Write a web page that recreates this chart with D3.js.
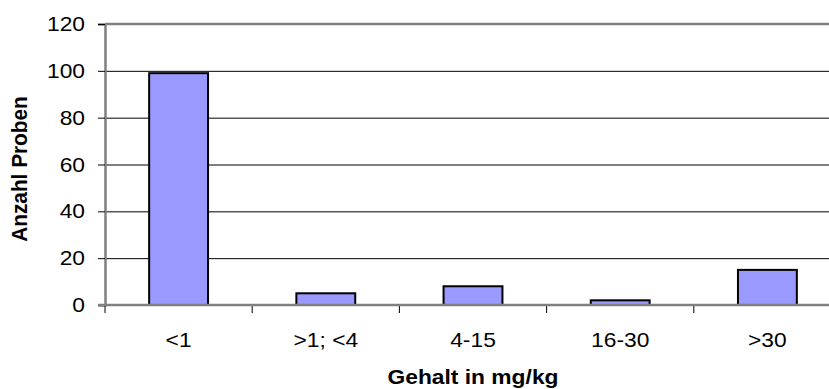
<!DOCTYPE html>
<html>
<head>
<meta charset="utf-8">
<script src="https://cdn.jsdelivr.net/npm/d3@7"></script>
<style>
  html, body { margin: 0; padding: 0; background: #fff; }
  svg { display: block; font-family: "Liberation Sans", Arial, sans-serif; }
</style>
</head>
<body>
<svg id="chart" width="829" height="389"></svg>
<script>
// Anzahl Proben je Gehaltsklasse
const categories = ["<1", ">1; <4", "4-15", "16-30", ">30"];
const counts = [99, 5, 8, 2, 15];
const yTicks = [0, 20, 40, 60, 80, 100, 120];
const xTitle = "Gehalt in mg/kg";
const yTitle = "Anzahl Proben";

const svg = d3.select("#chart");
const plot = { left: 105, right: 841, top: 24, bottom: 305 };
const stretch = 1.14;   // slightly widened lettering

const x = d3.scaleBand()
  .domain(categories)
  .range([plot.left, plot.right])
  .paddingInner(0.6)
  .paddingOuter(0.3);

const y = d3.scaleLinear()
  .domain([0, 120])
  .range([plot.bottom, plot.top]);

// horizontal gridlines
svg.append("g")
  .selectAll("line")
  .data(yTicks.filter(t => t > 0 && t < 120))
  .join("line")
  .attr("x1", plot.left).attr("x2", plot.right)
  .attr("y1", d => y(d) + 0.5).attr("y2", d => y(d) + 0.5)
  .attr("stroke", "#000").attr("stroke-width", 1);

// top border of the plot area
svg.append("line")
  .attr("x1", plot.left).attr("x2", plot.right)
  .attr("y1", y(120)).attr("y2", y(120))
  .attr("stroke", "#808080").attr("stroke-width", 2.5);

// bars
svg.append("g")
  .selectAll("rect")
  .data(categories.map((c, i) => ({ c, v: counts[i] })))
  .join("rect")
  .attr("x", d => x(d.c))
  .attr("y", d => y(d.v))
  .attr("width", x.bandwidth())
  .attr("height", d => y(0) - y(d.v))
  .attr("fill", "#9999FF")
  .attr("stroke", "#000")
  .attr("stroke-width", 2);

// y axis
const yAxis = d3.axisLeft(y).tickValues(yTicks).tickSize(7).tickFormat(() => "");
const gy = svg.append("g").attr("transform", `translate(${plot.left},0)`).call(yAxis);
gy.select(".domain").attr("stroke", "#808080").attr("stroke-width", 2.5);
gy.selectAll(".tick line").attr("stroke", "#000").attr("stroke-width", 1);

svg.append("g")
  .selectAll("g")
  .data(yTicks)
  .join("g")
  .attr("transform", d => `translate(85,${y(d)}) scale(${stretch},1)`)
  .append("text")
  .attr("text-anchor", "end")
  .attr("dy", "0.35em")
  .attr("font-size", 20)
  .attr("fill", "#000")
  .text(d => d3.format("d")(d));

// x axis: tick marks on the category boundaries
const step = x.step();
const boundaries = d3.range(categories.length + 1).map(i => plot.left + i * step);
svg.append("g")
  .selectAll("line")
  .data(boundaries)
  .join("line")
  .attr("x1", d => d).attr("x2", d => d)
  .attr("y1", plot.bottom).attr("y2", plot.bottom + 8)
  .attr("stroke", "#000").attr("stroke-width", 1);

svg.append("line")
  .attr("x1", plot.left - 7).attr("x2", plot.right)
  .attr("y1", plot.bottom).attr("y2", plot.bottom)
  .attr("stroke", "#808080").attr("stroke-width", 2.5);

svg.append("g")
  .selectAll("g")
  .data(categories)
  .join("g")
  .attr("transform", d => `translate(${x(d) + x.bandwidth() / 2},347) scale(${stretch},1)`)
  .append("text")
  .attr("text-anchor", "middle")
  .attr("font-size", 20)
  .attr("fill", "#000")
  .text(d => d);

// axis titles
svg.append("g")
  .attr("transform", `translate(${(plot.left + plot.right) / 2},384) scale(${stretch},1)`)
  .append("text")
  .attr("text-anchor", "middle")
  .attr("font-size", 20)
  .attr("font-weight", "bold")
  .text(xTitle);

svg.append("g")
  .attr("transform", `translate(27,169) rotate(-90) scale(1.04,${stretch})`)
  .append("text")
  .attr("text-anchor", "middle")
  .attr("font-size", 20)
  .attr("font-weight", "bold")
  .text(yTitle);
</script>
</body>
</html>
